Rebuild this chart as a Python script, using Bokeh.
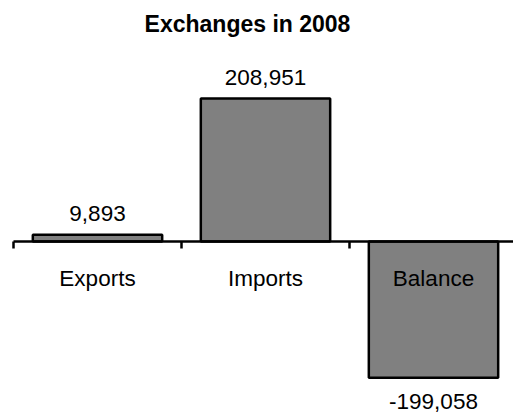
from bokeh.plotting import figure
from bokeh.models import Range1d, ColumnDataSource
from bokeh.core.properties import value
from bokeh.embed import file_html
from bokeh.resources import INLINE

categories = ["Exports", "Imports", "Balance"]
values = [9893, 208951, -199058]
value_labels = ["9,893", "208,951", "-199,058"]
title_text = "Exchanges in 2008"

W, H = 513, 419
left_px = 13          # x position of first tick
cat_px = 168          # width of one category in px
axis_px = 241         # y of zero line (from top)
k = 143 / 208951      # px per unit

x0 = -left_px / cat_px
x1 = (W - left_px) / cat_px
y1 = axis_px / k
y0 = -(H - axis_px) / k

def py(px_from_top):
    return (axis_px - px_from_top) / k

def px_x(px):
    return (px - left_px) / cat_px

FONT = value("Liberation Sans")

p = figure(width=W, height=H, output_backend="svg", toolbar_location=None,
           x_range=Range1d(x0, x1), y_range=Range1d(y0, y1),
           min_border=0)
p.outline_line_color = None
p.xaxis.visible = False
p.yaxis.visible = False
p.xgrid.visible = False
p.ygrid.visible = False
p.background_fill_color = "white"
p.border_fill_color = "white"

xs = [i + 0.5 for i in range(len(categories))]
src = ColumnDataSource(dict(x=xs, top=values, bottom=[0] * len(values),
                            cat=categories, lab=value_labels,
                            ly=values,
                            off=[-21 if v >= 0 else 24 for v in values]))

p.vbar(x="x", top="top", bottom="bottom", width=0.77, source=src,
       fill_color="#808080", line_color="black", line_width=2.5)

# zero axis line and ticks
p.segment(x0=[0], y0=[0], x1=[x1], y1=[0], line_color="black", line_width=2.5)
p.segment(x0=[0, 1, 2], y0=[0, 0, 0], x1=[0, 1, 2], y1=[-7 / k] * 3,
          line_color="black", line_width=2.5)

# category labels
p.text(x="x", y=0, text="cat", source=src, text_align="center",
       text_baseline="middle", y_offset=37,
       text_font=FONT, text_font_size="22.5px", text_color="black")

# value labels
p.text(x="x", y="ly", text="lab", source=src, text_align="center",
       text_baseline="middle", y_offset="off",
       text_font=FONT, text_font_size="22.5px", text_color="black")

# title
p.text(x=[px_x(247)], y=[py(23)], text=[title_text], text_align="center",
       text_baseline="middle", text_font=FONT,
       text_font_size="23px", text_font_style="bold", text_color="black")

open("out.html", "w").write(file_html(p, INLINE))
